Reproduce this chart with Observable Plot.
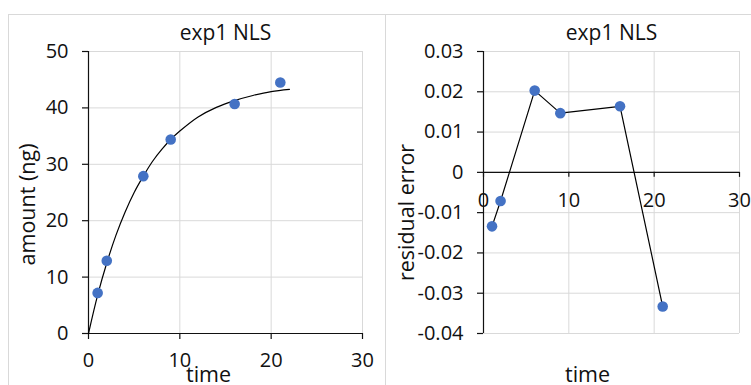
<!DOCTYPE html>
<html><head><meta charset="utf-8">
<script src="https://cdn.jsdelivr.net/npm/d3@7"></script>
<script src="https://cdn.jsdelivr.net/npm/@observablehq/plot@0.6"></script>
<style>
body{margin:0;background:#fff;}
#wrap{position:relative;width:751px;height:385px;overflow:hidden;font-family:"Open Sans",sans-serif;background:#fff;}
.panel{position:absolute;top:15px;}
.border{position:absolute;background:#d9d9d9;}
</style></head><body><div id="wrap">
<div class="border" style="left:8px;top:14px;width:743px;height:1px"></div>
<div class="border" style="left:8px;top:14px;width:1px;height:371px"></div>
<div class="border" style="left:385px;top:14px;width:1px;height:371px"></div>
</div>
<script>
const title = "exp1 NLS";
const xLabel = "time";
const leftYLabel = "amount (ng)";
const rightYLabel = "residual error";
const times = [1, 2, 6, 9, 16, 21];
const amounts = [7.2, 12.9, 27.9, 34.4, 40.7, 44.5];
const residuals = [-0.0134, -0.0071, 0.0203, 0.0147, 0.0164, -0.0333];
const fitTimes = [0, 1, 2, 3, 4, 5, 6, 7, 8, 9, 10, 12, 14, 16, 18, 20, 22];
const fitAmounts = [0, 6.8, 12.5, 17.4, 21.5, 25.0, 27.9, 30.5, 32.6, 34.4, 35.9, 38.4, 40.1, 41.3, 42.2, 42.9, 43.3];
const xTicks = [0, 10, 20, 30];
const leftYTicks = [0, 10, 20, 30, 40, 50];
const rightYTicks = [-0.04, -0.03, -0.02, -0.01, 0, 0.01, 0.02, 0.03];

const obs = times.map((t, i) => ({t, a: amounts[i], r: residuals[i]}));
const fit = fitTimes.map((t, i) => ({t, a: fitAmounts[i]}));

const H = 370;
const blue = "#4472C4";
const grid = "#d9d9d9";
const ink = "#111";
const tickFont = 20;
const titleFont = 21;
const labelFont = 21.5;
const baseStyle = {fontFamily: "'Open Sans', sans-serif", fontSize: tickFont + "px", color: ink, background: "transparent", overflow: "visible"};

// Left panel
const L = {width: 378, mt: 36, mb: 52, ml: 80, mr: 24};
const left = Plot.plot({
  width: L.width, height: H,
  marginLeft: L.ml, marginRight: L.mr, marginTop: L.mt, marginBottom: L.mb,
  style: baseStyle,
  x: {domain: [0, 30]},
  y: {domain: [0, 50]},
  marks: [
    Plot.gridX(xTicks.filter(d => d > 0), {stroke: grid, strokeOpacity: 1}),
    Plot.gridY(leftYTicks.filter(d => d > 0), {stroke: grid, strokeOpacity: 1}),
    Plot.axisX(xTicks, {tickSize: 6, tickPadding: 13, label: null, stroke: ink, strokeWidth: 1.2, fontSize: tickFont}),
    Plot.axisY(leftYTicks, {tickSize: 6, tickPadding: 14, label: null, stroke: ink, strokeWidth: 1.2, fontSize: tickFont}),
    Plot.ruleX([0], {stroke: ink, strokeWidth: 1.2}),
    Plot.ruleY([0], {stroke: ink, strokeWidth: 1.2}),
    Plot.line(fit, {x: "t", y: "a", curve: "catmull-rom", stroke: "#000", strokeWidth: 1.2}),
    Plot.dot(obs, {x: "t", y: "a", r: 5.3, fill: blue, stroke: "none"}),
    Plot.text([title], {text: d => d, frameAnchor: "top", lineAnchor: "middle", textAnchor: "middle", dy: -18, fontSize: titleFont, fill: ink}),
    Plot.text([xLabel], {text: d => d, frameAnchor: "bottom", lineAnchor: "middle", textAnchor: "middle", dy: 42, dx: -17, fontSize: labelFont, fill: ink}),
    Plot.text([leftYLabel], {text: d => d, frameAnchor: "left", lineAnchor: "middle", textAnchor: "middle", dx: -60, dy: 12, rotate: -90, fontSize: labelFont, fill: ink})
  ]
});

// Right panel
const R = {width: 365, mt: 36, mb: 52, ml: 97, mr: 12};
const yDomR = [-0.04, 0.03];
const yS = d3.scaleLinear(yDomR, [H - R.mb, R.mt]);
const axisOffset = yS(yDomR[0]) - yS(0);
const fmt = d => d === 0 ? "0" : d.toFixed(2);
const right = Plot.plot({
  width: R.width, height: H,
  marginLeft: R.ml, marginRight: R.mr, marginTop: R.mt, marginBottom: R.mb,
  style: baseStyle,
  x: {domain: [0, 30]},
  y: {domain: yDomR},
  marks: [
    Plot.gridX(xTicks.filter(d => d > 0), {stroke: grid, strokeOpacity: 1}),
    Plot.gridY(rightYTicks, {stroke: grid, strokeOpacity: 1}),
    Plot.axisY(rightYTicks, {tickSize: 6, tickPadding: 14, label: null, tickFormat: fmt, stroke: ink, strokeWidth: 1.2, fontSize: tickFont}),
    Plot.axisX(xTicks, {tickSize: 5, tickPadding: 15, label: null, stroke: ink, strokeWidth: 1.2, fontSize: tickFont, dy: -axisOffset}),
    Plot.ruleX([0], {stroke: ink, strokeWidth: 1.2}),
    Plot.ruleY([0], {stroke: ink, strokeWidth: 1.2}),
    Plot.line(obs, {x: "t", y: "r", stroke: "#000", strokeWidth: 1.2}),
    Plot.dot(obs, {x: "t", y: "r", r: 5.3, fill: blue, stroke: "none"}),
    Plot.text([title], {text: d => d, frameAnchor: "top", lineAnchor: "middle", textAnchor: "middle", dy: -18, fontSize: titleFont, fill: ink}),
    Plot.text([xLabel], {text: d => d, frameAnchor: "bottom", lineAnchor: "middle", textAnchor: "middle", dy: 42, dx: -24, fontSize: labelFont, fill: ink}),
    Plot.text([rightYLabel], {text: d => d, frameAnchor: "left", lineAnchor: "middle", textAnchor: "middle", dx: -76, dy: 20, rotate: -90, fontSize: labelFont, fill: ink})
  ]
});

const wrap = document.getElementById("wrap");
const p1 = document.createElement("div"); p1.className = "panel"; p1.style.left = "8px"; p1.appendChild(left);
const p2 = document.createElement("div"); p2.className = "panel"; p2.style.left = "386px"; p2.appendChild(right);
wrap.appendChild(p1); wrap.appendChild(p2);
</script>
</body></html>
